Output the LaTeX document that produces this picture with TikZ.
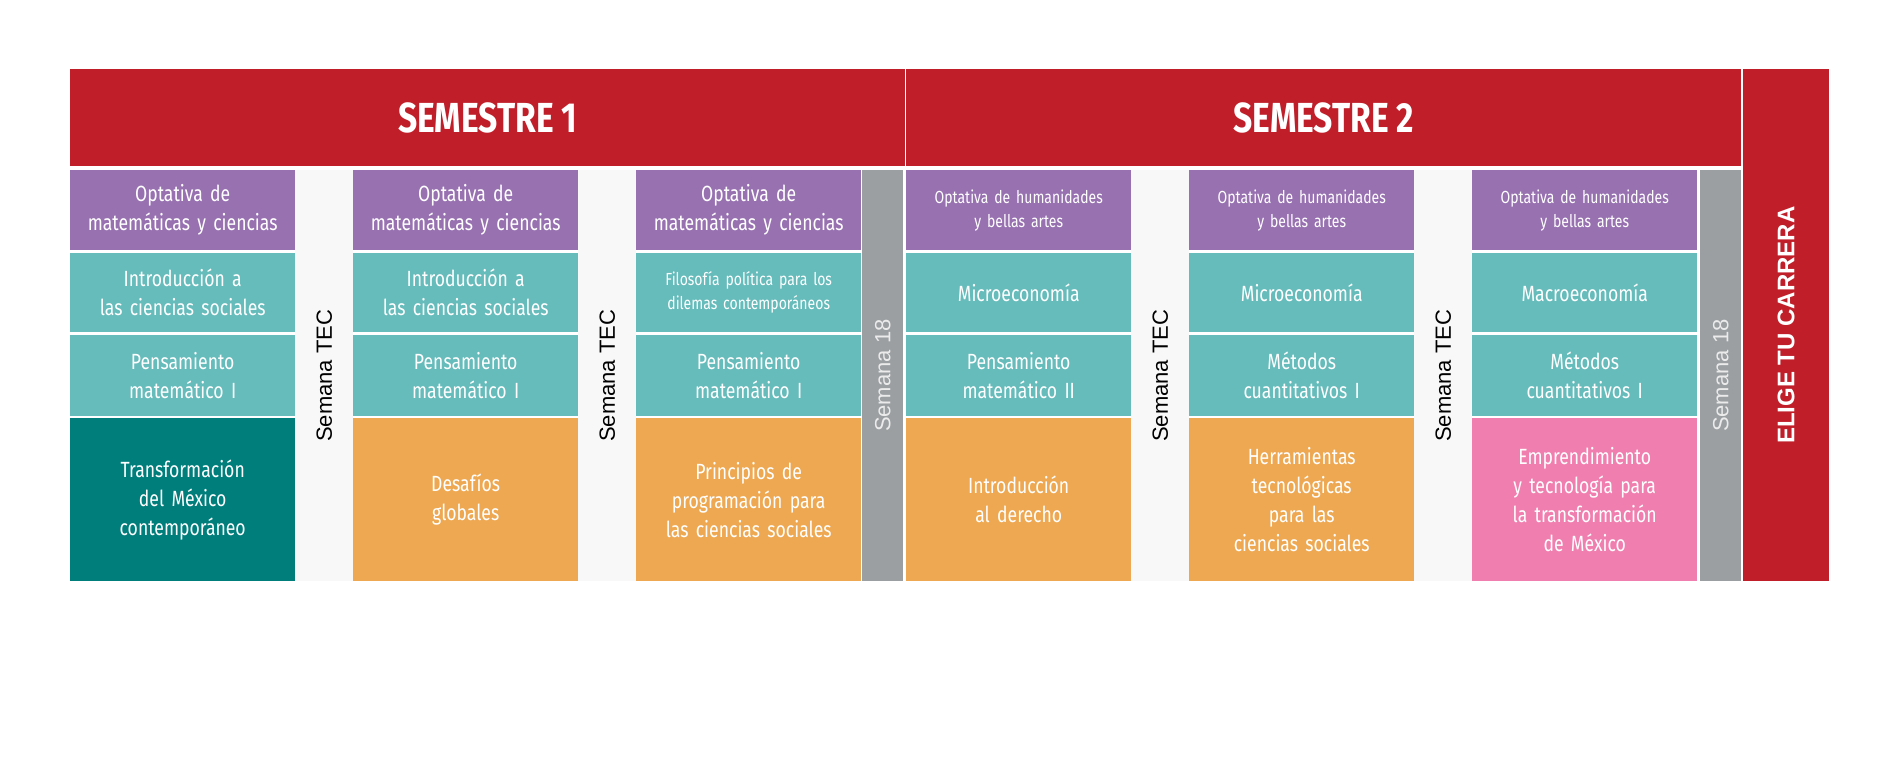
\documentclass[tikz,border=0pt]{standalone}
\usepackage{fontspec}
\setmainfont{Fira Sans}[FakeStretch=0.80]
\newfontfamily\arialf{Liberation Sans}
\definecolor{cred}{HTML}{C01F2A}
\definecolor{cpur}{HTML}{9771B0}
\definecolor{cteal}{HTML}{66BBBB}
\definecolor{cdteal}{HTML}{007E7C}
\definecolor{corange}{HTML}{EEA851}
\definecolor{cpink}{HTML}{F07FAF}
\definecolor{cgray}{HTML}{9B9FA2}
\definecolor{cgap}{HTML}{F8F8F8}
\begin{document}
\begin{tikzpicture}[x=1pt,y=-1pt,
 cell/.style={anchor=north west,inner sep=0pt,minimum width=225pt,text width=215pt,align=center,text=white,font=\fontsize{22}{29}\selectfont},
 small/.style={font=\fontsize{17.5}{24}\selectfont},
 gapbox/.style={anchor=north west,inner sep=0pt,fill=cgap,minimum width=58pt,minimum height=411pt},
 vlab/.style={rotate=90,font=\arialf\fontsize{22}{26}\selectfont}]
\useasboundingbox (0,0) rectangle (1900,776);
\node[anchor=north west,inner sep=0pt,fill=cred,minimum width=835pt,minimum height=97pt,text=white,font=\bfseries\fontsize{42}{46}\selectfont] (s1) at (70,69) {SEMESTRE 1};
\node[anchor=north west,inner sep=0pt,fill=cred,minimum width=835pt,minimum height=97pt,text=white,font=\bfseries\fontsize{42}{46}\selectfont] (s2) at (906,69) {SEMESTRE 2};
\node[anchor=north west,inner sep=0pt,fill=cred,minimum width=86pt,minimum height=512pt] (el) at (1743,69) {};
\node[rotate=90,text=white,font=\arialf\bfseries\fontsize{24}{28}\selectfont] (elt) at (el.center) {ELIGE TU CARRERA};
% gaps
\foreach \x/\n in {295/g1,578/g2,1131/g3,1414/g4}{
 \node[gapbox] (\n) at (\x,170) {};
 \node[vlab] at (\n.center) {Semana TEC};}
\foreach \x/\n in {862/h1,1700/h2}{
 \node[anchor=north west,inner sep=0pt,fill=cgray,minimum width=41pt,minimum height=411pt] (\n) at (\x,170) {};
 \node[vlab,text=white!92!black] at (\n.center) {Semana 18};}
% columns
\foreach \x/\i in {70/1,353/2,636/3}{
 \node[cell,fill=cpur,minimum height=80pt] (p\i) at (\x,170) {Optativa de\\matemáticas y ciencias};}
\foreach \x/\i in {906/4,1189/5,1472/6}{
 \node[cell,fill=cpur,minimum height=80pt,small] (p\i) at (\x,170) {Optativa de humanidades\\y bellas artes};}
\node[cell,fill=cteal,minimum height=79pt] (a1) at (70,253) {Introducción a\\las ciencias sociales};
\node[cell,fill=cteal,minimum height=79pt] (a2) at (353,253) {Introducción a\\las ciencias sociales};
\node[cell,fill=cteal,minimum height=79pt,small] (a3) at (636,253) {Filosofía política para los\\dilemas contemporáneos};
\node[cell,fill=cteal,minimum height=79pt] (a4) at (906,253) {Microeconomía};
\node[cell,fill=cteal,minimum height=79pt] (a5) at (1189,253) {Microeconomía};
\node[cell,fill=cteal,minimum height=79pt] (a6) at (1472,253) {Macroeconomía};
\node[cell,fill=cteal,minimum height=81pt] (b1) at (70,335) {Pensamiento\\matemático I};
\node[cell,fill=cteal,minimum height=81pt] (b2) at (353,335) {Pensamiento\\matemático I};
\node[cell,fill=cteal,minimum height=81pt] (b3) at (636,335) {Pensamiento\\matemático I};
\node[cell,fill=cteal,minimum height=81pt] (b4) at (906,335) {Pensamiento\\matemático II};
\node[cell,fill=cteal,minimum height=81pt] (b5) at (1189,335) {Métodos\\cuantitativos I};
\node[cell,fill=cteal,minimum height=81pt] (b6) at (1472,335) {Métodos\\cuantitativos I};
\node[cell,fill=cdteal,minimum height=163pt] (c1) at (70,418) {Transformación\\del México\\contemporáneo};
\node[cell,fill=corange,minimum height=163pt] (c2) at (353,418) {Desafíos\\globales};
\node[cell,fill=corange,minimum height=163pt] (c3) at (636,418) {Principios de\\programación para\\las ciencias sociales};
\node[cell,fill=corange,minimum height=163pt] (c4) at (906,418) {Introducción\\al derecho};
\node[cell,fill=corange,minimum height=163pt] (c5) at (1189,418) {Herramientas\\tecnológicas\\para las\\ciencias sociales};
\node[cell,fill=cpink,minimum height=163pt] (c6) at (1472,418) {Emprendimiento\\y tecnología para\\la transformación\\de México};
\end{tikzpicture}
\end{document}
